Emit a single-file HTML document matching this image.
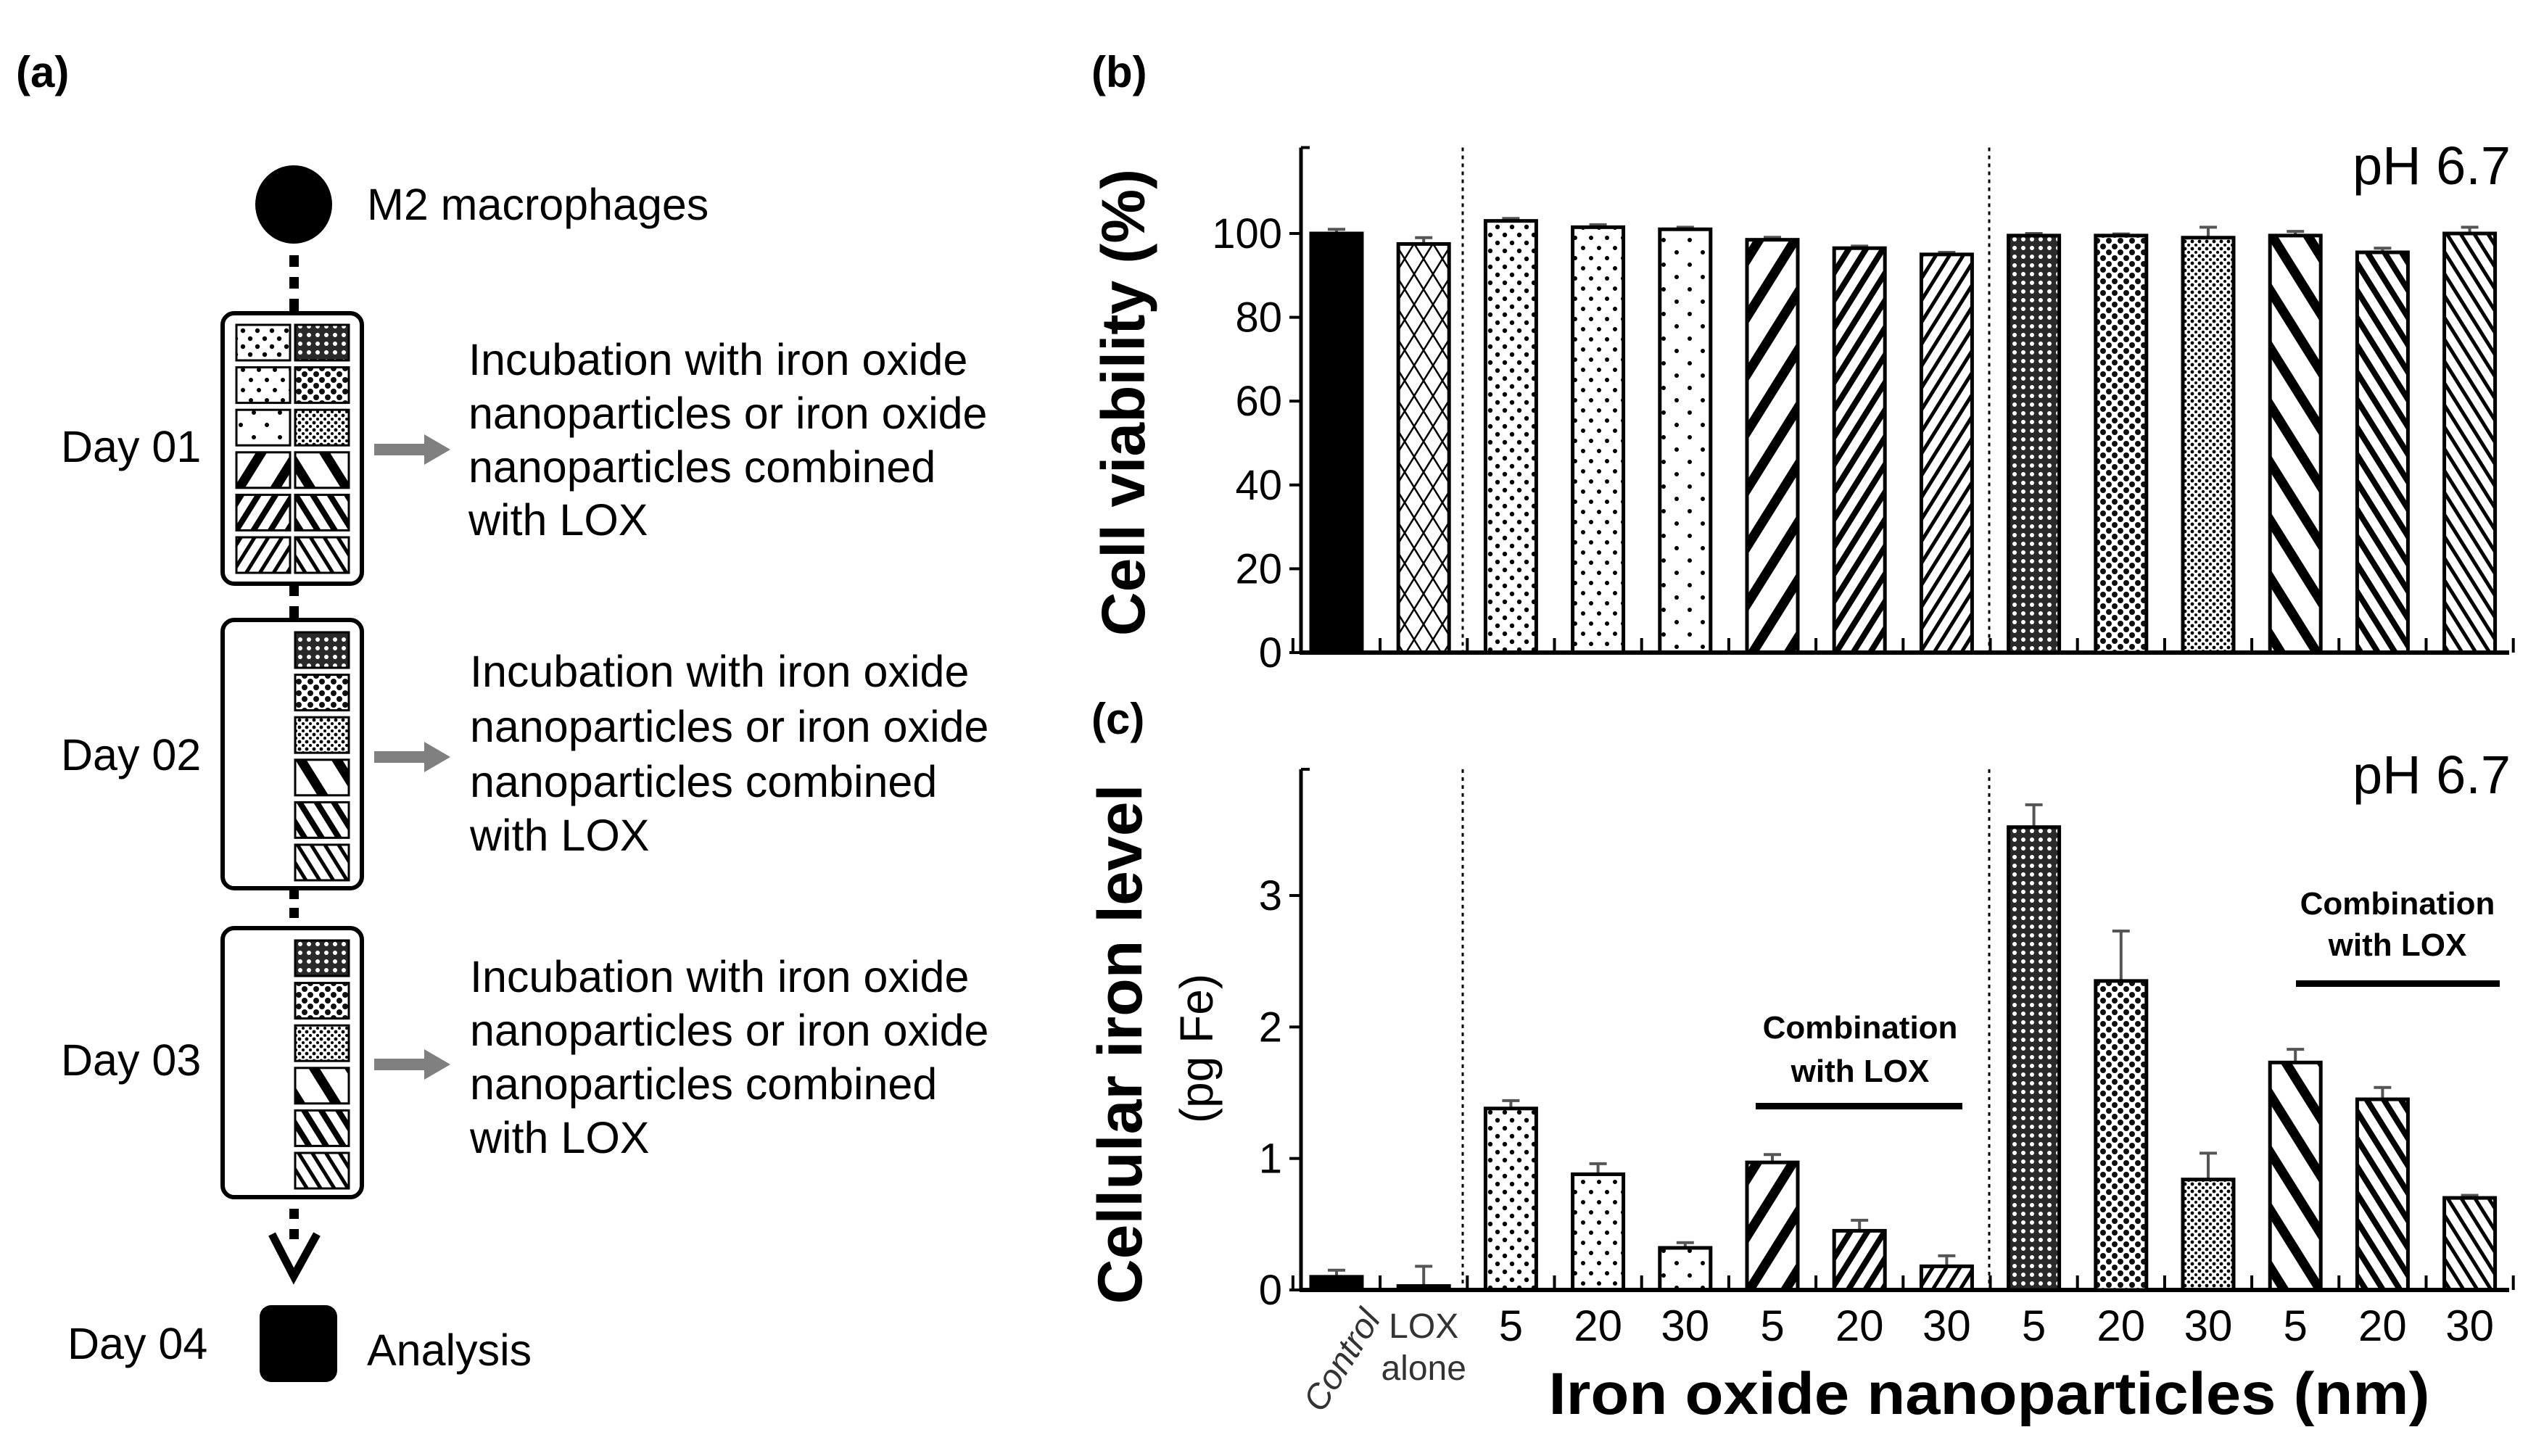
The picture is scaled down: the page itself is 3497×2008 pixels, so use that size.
<!DOCTYPE html>
<html><head><meta charset="utf-8">
<style>
html,body{margin:0;padding:0;background:#fff;}
svg{display:block;font-family:"Liberation Sans",sans-serif;}
</style></head>
<body>
<svg id="fig" width="3497" height="2008" viewBox="0 0 3497 2008" xmlns="http://www.w3.org/2000/svg">
<defs>
  <pattern id="p-solid" patternUnits="userSpaceOnUse" width="10" height="10"><rect width="10" height="10" fill="#000"/></pattern>
  <pattern id="p-cross" patternUnits="userSpaceOnUse" width="26" height="42"><path d="M0,0 L26,42 M26,0 L0,42" stroke="#000" stroke-width="2.5" fill="none"/></pattern>
  <pattern id="p-dot1" patternUnits="userSpaceOnUse" width="20" height="22"><circle cx="5" cy="5" r="3.2" fill="#000"/><circle cx="15" cy="16" r="3.2" fill="#000"/></pattern>
  <pattern id="p-dot2" patternUnits="userSpaceOnUse" width="22" height="28"><circle cx="5" cy="6" r="3" fill="#000"/><circle cx="16" cy="20" r="3" fill="#000"/></pattern>
  <pattern id="p-dot3" patternUnits="userSpaceOnUse" width="36" height="34"><circle cx="8" cy="8" r="3" fill="#000"/><circle cx="26" cy="25" r="3" fill="#000"/></pattern>
  <pattern id="p-fw1" patternUnits="userSpaceOnUse" width="42" height="42" patternTransform="rotate(32)"><rect width="13" height="42" fill="#000"/></pattern>
  <pattern id="p-fw2" patternUnits="userSpaceOnUse" width="20" height="20" patternTransform="rotate(32)"><rect width="8" height="20" fill="#000"/></pattern>
  <pattern id="p-fw3" patternUnits="userSpaceOnUse" width="16" height="16" patternTransform="rotate(32)"><rect width="5" height="16" fill="#000"/></pattern>
  <pattern id="p-bw1" patternUnits="userSpaceOnUse" width="42" height="42" patternTransform="rotate(-32)"><rect width="13" height="42" fill="#000"/></pattern>
  <pattern id="p-bw2" patternUnits="userSpaceOnUse" width="20" height="20" patternTransform="rotate(-32)"><rect width="8" height="20" fill="#000"/></pattern>
  <pattern id="p-bw3" patternUnits="userSpaceOnUse" width="16" height="16" patternTransform="rotate(-32)"><rect width="5" height="16" fill="#000"/></pattern>
  <pattern id="p-chk" patternUnits="userSpaceOnUse" width="12" height="12"><rect width="12" height="12" fill="#2a2a2a"/><circle cx="6" cy="6" r="3" fill="#fff"/></pattern>
  <pattern id="p-lat" patternUnits="userSpaceOnUse" width="16" height="16"><rect width="16" height="16" fill="#fff"/><circle cx="4" cy="4" r="4" fill="#111"/><circle cx="12" cy="12" r="4" fill="#111"/></pattern>
  <pattern id="p-fine" patternUnits="userSpaceOnUse" width="10" height="10"><circle cx="3" cy="3" r="2.4" fill="#000"/><circle cx="8" cy="8" r="2" fill="#000"/></pattern>
</defs>

<!-- Panel (a) -->
<g>
  <text x="22" y="120" font-size="60" font-weight="bold">(a)</text>
  <ellipse cx="405" cy="282" rx="53" ry="54" fill="#000"/>
  <text x="506" y="303" font-size="61">M2 macrophages</text>
  <g fill="#000">
    <rect x="399" y="352" width="13" height="16"/><rect x="399" y="382" width="13" height="16"/><rect x="399" y="412" width="13" height="18"/>
    <rect x="399" y="808" width="13" height="14"/><rect x="399" y="836" width="13" height="16"/>
    <rect x="399" y="1228" width="13" height="12"/><rect x="399" y="1252" width="13" height="14"/>
    <rect x="399" y="1667" width="13" height="14"/><rect x="399" y="1695" width="13" height="14"/>
  </g>
  <path d="M375,1702 L405,1760 L437,1702" fill="none" stroke="#000" stroke-width="11"/>
  <g id="boxes"></g>
  <text x="84" y="637" font-size="61">Day 01</text>
  <text x="84" y="1062" font-size="61">Day 02</text>
  <text x="84" y="1483" font-size="61">Day 03</text>
  <text x="93" y="1874" font-size="61">Day 04</text>
  <rect x="358" y="1800" width="107" height="106" rx="16" fill="#000"/>
  <text x="506" y="1883" font-size="61">Analysis</text>
  <g fill="#808080">
    <path d="M516,612 L585,612 L585,599 L621,620 L585,641 L585,628 L516,628Z"/>
    <path d="M516,1036 L585,1036 L585,1023 L621,1044 L585,1065 L585,1052 L516,1052Z"/>
    <path d="M516,1460 L585,1460 L585,1447 L621,1468 L585,1489 L585,1476 L516,1476Z"/>
  </g>
  <g font-size="61">
    <text x="646" y="517">Incubation with iron oxide</text>
    <text x="646" y="591">nanoparticles or iron oxide</text>
    <text x="646" y="665">nanoparticles combined</text>
    <text x="646" y="738">with LOX</text>
  </g>
  <g font-size="61">
    <text x="648" y="947">Incubation with iron oxide</text>
    <text x="648" y="1023">nanoparticles or iron oxide</text>
    <text x="648" y="1099">nanoparticles combined</text>
    <text x="648" y="1173">with LOX</text>
  </g>
  <g font-size="61">
    <text x="648" y="1368">Incubation with iron oxide</text>
    <text x="648" y="1442">nanoparticles or iron oxide</text>
    <text x="648" y="1516">nanoparticles combined</text>
    <text x="648" y="1590">with LOX</text>
  </g>
</g>

<!-- Panel (b) -->
<g id="panel-b">
  <text x="1505" y="120" font-size="60" font-weight="bold">(b)</text>
  <text x="3462" y="254" font-size="74" text-anchor="end">pH 6.7</text>
  <text transform="translate(1578,555) rotate(-90)" font-size="84" font-weight="bold" text-anchor="middle">Cell viability (%)</text>
</g>

<!-- Panel (c) -->
<g id="panel-c">
  <text x="1505" y="1012" font-size="60" font-weight="bold">(c)</text>
  <text x="3462" y="1094" font-size="74" text-anchor="end">pH 6.7</text>
  <text transform="translate(1574,1440) rotate(-90)" font-size="86" font-weight="bold" text-anchor="middle">Cellular iron level</text>
  <text transform="translate(1672,1446) rotate(-90)" font-size="64" text-anchor="middle">(pg Fe)</text>
  <g font-size="44" font-weight="bold" text-anchor="middle">
    <text x="2565" y="1432">Combination</text><text x="2565" y="1492">with LOX</text>
  </g>
  <rect x="2421" y="1521" width="285" height="9" fill="#000"/>
  <g font-size="44" font-weight="bold" text-anchor="middle">
    <text x="3306" y="1261">Combination</text><text x="3306" y="1318">with LOX</text>
  </g>
  <rect x="3166" y="1352" width="281" height="9" fill="#000"/>
  <text x="2743" y="1950" font-size="82" font-weight="bold" text-anchor="middle" textLength="1215" lengthAdjust="spacingAndGlyphs">Iron oxide nanoparticles (nm)</text>
</g>

<script>
const groups = ["Control","LOX alone","5","20","30","5","20","30","5","20","30","5","20","30"];
const viability = [100,97.5,103,101.5,101,98.5,96.5,95,99.5,99.5,99,99.5,95.5,100];
const viabilityErr = [1,1.5,0.6,0.6,0.5,0.6,0.5,0.5,0.5,0.4,2.5,1,1,1.5];
const ironLevel = [0.1,0.03,1.38,0.88,0.32,0.97,0.45,0.18,3.52,2.35,0.84,1.73,1.45,0.7];
const ironErr = [0.05,0.15,0.06,0.08,0.04,0.06,0.08,0.08,0.17,0.38,0.2,0.1,0.09,0.02];
const viabilityTicks = [0,20,40,60,80,100];
const ironTicks = [0,1,2,3];
const patterns = ["p-solid","p-cross","p-dot1","p-dot2","p-dot3","p-fw1","p-fw2","p-fw3","p-chk","p-lat","p-fine","p-bw1","p-bw2","p-bw3"];

const NS = "http://www.w3.org/2000/svg";
function mk(tag, attrs, parent){
  const e = document.createElementNS(NS, tag);
  for (const k in attrs) e.setAttribute(k, attrs[k]);
  parent.appendChild(e);
  return e;
}
const X0 = 1843, PITCH = 120.2, BW = 70;
function xCenter(i){ return X0 + i*PITCH; }

function drawPanel(parent, vals, errs, ticks, y0, yTop, vmax, axisTopVal, name){
  const scale = v => y0 - (v/vmax)*(y0-yTop);
  const axX = 1794;
  const ya = mk('line',{x1:axX,y1:scale(axisTopVal),x2:axX,y2:y0+2,stroke:'#000','stroke-width':5},parent);
  
  
  mk('line',{x1:axX,y1:scale(axisTopVal),x2:axX+12,y2:scale(axisTopVal),stroke:'#000','stroke-width':4},parent);
  const xa = mk('line',{x1:axX-2,y1:y0,x2:3460,y2:y0,stroke:'#000','stroke-width':6},parent);
  
  
  ticks.forEach(t=>{
    const y = scale(t);
    mk('line',{x1:axX-16,y1:y,x2:axX,y2:y,stroke:'#000','stroke-width':4},parent);
    const tl = mk('text',{x:1768,y:y+20,'font-size':58,'text-anchor':'end'},parent);
    tl.textContent = t;
    
    
  });
  [2017,2743].forEach(sx=>{
    const s = mk('line',{x1:sx,y1:scale(axisTopVal),x2:sx,y2:y0,stroke:'#000','stroke-width':3,'stroke-dasharray':'5,6'},parent);
    
    
  });
  for (let i=0;i<=groups.length;i++){
    const tx = xCenter(i) - PITCH/2;
    mk('line',{x1:tx,y1:y0-20,x2:tx,y2:y0,stroke:'#000','stroke-width':4},parent);
  }
  vals.forEach((v,i)=>{
    const cx = xCenter(i), top = scale(v), et = scale(v+errs[i]);
    const eb = mk('line',{x1:cx,y1:top,x2:cx,y2:et,stroke:'#555','stroke-width':4},parent);
    
    
    mk('line',{x1:cx-12,y1:et,x2:cx+12,y2:et,stroke:'#555','stroke-width':4},parent);
    const b = mk('rect',{x:cx-BW/2,y:top,width:BW,height:Math.max(0,y0-top),fill:'url(#'+patterns[i]+')',stroke:'#000','stroke-width':5},parent);
    
    
  });
}
drawPanel(document.getElementById('panel-b'), viability, viabilityErr, viabilityTicks, 900, 322, 100, 120.5, 'viability');
drawPanel(document.getElementById('panel-c'), ironLevel, ironErr, ironTicks, 1779, 1235, 3, 3.96, 'iron');

const pc = document.getElementById('panel-c');
groups.forEach((g,i)=>{
  const cx = xCenter(i);
  if (i===0){
    const t = mk('text',{transform:'translate('+(cx-20)+',1950) rotate(-58)','font-size':48,'font-style':'italic','fill':'#333'},pc);
    t.textContent = g;
    
    
  } else if (i===1){
    const t = mk('text',{x:cx,y:1845,'font-size':48,'text-anchor':'middle','fill':'#333'},pc);
    t.textContent = 'LOX';
    
    
    const t2 = mk('text',{x:cx,y:1903,'font-size':48,'text-anchor':'middle','fill':'#333'},pc);
    t2.textContent = 'alone';
    
    
  } else {
    const t = mk('text',{x:cx,y:1849,'font-size':60,'text-anchor':'middle'},pc);
    t.textContent = g;
    
    
  }
});

const bx = document.getElementById('boxes');
const boxes = [[432,805,true],[855,1225,false],[1280,1651,false]];
const rowStarts = [448,872,1297];
const leftPats = ["p-dot1","p-dot2","p-dot3","p-fw1","p-fw2","p-fw3"];
const rightPats = ["p-chk","p-lat","p-fine","p-bw1","p-bw2","p-bw3"];
boxes.forEach((b,k)=>{
  const r = mk('rect',{x:307,y:b[0],width:192,height:b[1]-b[0],rx:16,fill:'#fff',stroke:'#000','stroke-width':6},bx);
  
  
  for (let j=0;j<6;j++){
    const y = rowStarts[k] + j*58.6;
    if (b[2]){
      const c1 = mk('rect',{x:326,y:y,width:74,height:49,fill:'url(#'+leftPats[j]+')',stroke:'#000','stroke-width':3},bx);
      
      
    }
    const c2 = mk('rect',{x:407,y:y,width:74,height:49,fill:'url(#'+rightPats[j]+')',stroke:'#000','stroke-width':3},bx);
    
    
  }
});
</script>
</svg>
</body></html>
